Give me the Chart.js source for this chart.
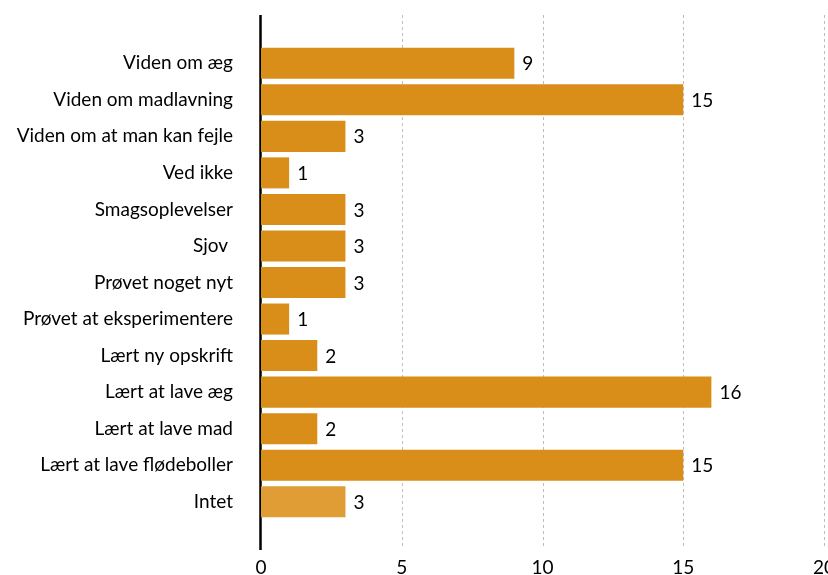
<!DOCTYPE html>
<html>
<head>
<meta charset="utf-8">
<script src="https://cdn.jsdelivr.net/npm/chart.js@4"></script>
<style>
  html, body { margin: 0; padding: 0; background: #fff; overflow: hidden; }
  #myChart { display: block; }
</style>
</head>
<body>
<canvas id="myChart" width="834" height="575"></canvas>
<script>
// svar og antal
const kategorier = ["Viden om æg", "Viden om madlavning", "Viden om at man kan fejle", "Ved ikke", "Smagsoplevelser", "Sjov ", "Prøvet noget nyt", "Prøvet at eksperimentere", "Lært ny opskrift", "Lært at lave æg", "Lært at lave mad", "Lært at lave flødeboller", "Intet"];
const antal = [9, 15, 3, 1, 3, 3, 3, 1, 2, 16, 2, 15, 3];
const xTicks = [0, 5, 10, 15, 20];

const farver = antal.map((v, i) => i === antal.length - 1 ? "#e09c35" : "#da8e1a");
const skrift = "Lato, 'DejaVu Sans', sans-serif";
const str = 19;

// stiplede linjer og akse der går lidt ud over plotområdet
const gitter = {
	id: "gitter",
	beforeDatasetsDraw: function (chart) {
		const ctx = chart.ctx;
		const a = chart.chartArea;
		const x = chart.scales.x;
		ctx.save();
		ctx.strokeStyle = "#bdbdbd";
		ctx.lineWidth = 1;
		ctx.setLineDash([3, 3]);
		for (let i = 1; i < xTicks.length; i++) {
			const px = Math.round(x.getPixelForValue(xTicks[i])) + 0.5;
			ctx.beginPath();
			ctx.moveTo(px, a.top - 30);
			ctx.lineTo(px, a.bottom + 27);
			ctx.stroke();
		}
		ctx.setLineDash([]);
		ctx.strokeStyle = "#000";
		ctx.lineWidth = 2.5;
		const x0 = x.getPixelForValue(0) - 0.5;
		ctx.beginPath();
		ctx.moveTo(x0, a.top - 30);
		ctx.lineTo(x0, a.bottom + 30);
		ctx.stroke();
		ctx.restore();
	},
	// tal ved enden af hver søjle
	afterDatasetsDraw: function (chart) {
		const ctx = chart.ctx;
		const meta = chart.getDatasetMeta(0);
		ctx.save();
		ctx.font = str + "px " + skrift;
		ctx.fillStyle = "#000";
		ctx.textAlign = "left";
		ctx.textBaseline = "middle";
		meta.data.forEach(function (bar, i) {
			ctx.fillText(antal[i], bar.x + 8, bar.y + 1);
		});
		ctx.restore();
	}
};

const config = {
	type: "bar",
	data: {
		labels: kategorier,
		datasets: [{
			data: antal,
			backgroundColor: farver,
			borderWidth: 0,
			barPercentage: 0.85,
			categoryPercentage: 1
		}]
	},
	options: {
		indexAxis: "y",
		responsive: false,
		animation: false,
		layout: { padding: { top: 45, bottom: -4, left: 0, right: 0 } },
		plugins: { legend: { display: false }, tooltip: { enabled: false } },
		scales: {
			x: {
				min: 0,
				max: 20,
				grid: { display: false, drawTicks: false },
				border: { display: false },
				afterBuildTicks: function (s) { s.ticks = xTicks.map(v => ({ value: v })); },
				// tick-padding skal ikke give ekstra luft i siderne
				afterFit: function (s) { s.paddingLeft = 0; s.paddingRight = 10; s.height = 59; },
				ticks: { padding: 36, color: "#000", font: { family: skrift, size: str } }
			},
			y: {
				grid: { display: false, drawTicks: false },
				border: { display: false },
				afterFit: function (s) { s.width = 261; s.paddingTop = 0; s.paddingBottom = 0; },
				ticks: { padding: 28, color: "#000", font: { family: skrift, size: str } }
			}
		}
	},
	plugins: [gitter]
};

new Chart(document.getElementById("myChart"), config);
</script>
</body>
</html>
